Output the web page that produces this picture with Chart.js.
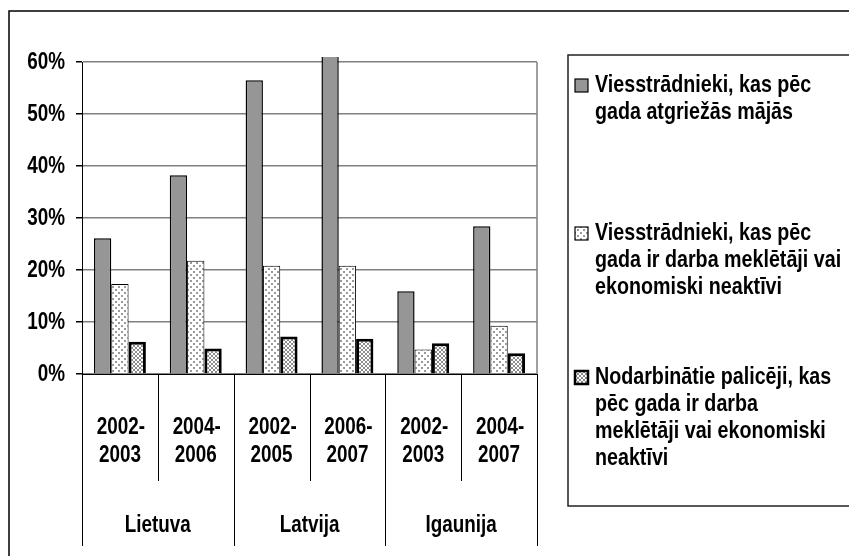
<!DOCTYPE html>
<html>
<head>
<meta charset="utf-8">
<script src="https://cdn.jsdelivr.net/npm/chart.js@4/dist/chart.umd.min.js"></script>
<style>
  html, body { margin: 0; padding: 0; background: #fff; }
  #wrap { width: 849px; height: 556px; position: relative; }
</style>
</head>
<body>
<div id="wrap"><canvas id="c" width="849" height="556"></canvas></div>
<script>
// ---- data ----
const countries = ['Lietuva', 'Latvija', 'Igaunija'];
const periods = ['2002-2003', '2004-2006', '2002-2005', '2006-2007', '2002-2003', '2004-2007'];
const seriesNames = [
  'Viesstrādnieki, kas pēc gada atgriežās mājās',
  'Viesstrādnieki, kas pēc gada ir darba meklētāji vai ekonomiski neaktīvi',
  'Nodarbinātie palicēji, kas pēc gada ir darba meklētāji vai ekonomiski neaktīvi'
];
const legendLines = [
  ['Viesstrādnieki, kas pēc', 'gada atgriežās mājās'],
  ['Viesstrādnieki, kas pēc', 'gada ir darba meklētāji vai', 'ekonomiski neaktīvi'],
  ['Nodarbinātie palicēji, kas', 'pēc gada ir darba', 'meklētāji vai ekonomiski', 'neaktīvi']
];
const returnedHome = [26.1, 38.2, 56.5, 65, 15.9, 28.4];
const jobSeekers = [17.3, 21.8, 20.8, 20.8, 4.7, 9.3];
const stayers = [6.2, 4.9, 7.2, 6.8, 5.9, 4.0];
const yTicks = [0, 10, 20, 30, 40, 50, 60];

const FONT = "'Liberation Sans', Arial, sans-serif";
const NARROW = 0.82;

function makePattern(draw, w, h) {
  const c = document.createElement('canvas');
  c.width = w; c.height = h;
  const x = c.getContext('2d');
  x.fillStyle = '#fff';
  x.fillRect(0, 0, w, h);
  draw(x);
  return document.getElementById('c').getContext('2d').createPattern(c, 'repeat');
}
const dotPattern = makePattern(x => {
  x.fillStyle = '#9a9a9a';
  x.fillRect(1, 1, 2, 2);
  x.fillRect(4, 4, 2, 2);
}, 6, 6);
const hatchPattern = makePattern(x => {
  x.fillStyle = '#8c8c8c';
  for (let i = 0; i < 4; i++) {
    x.fillRect(i, i, 1, 1);
    x.fillRect(3 - i, i, 1, 1);
  }
}, 4, 4);

const fills = ['#969696', dotPattern, hatchPattern];
const borders = [1.5, 1, 3];

function narrowText(ctx, text, x, y, align, size) {
  ctx.save();
  ctx.font = 'bold ' + size + 'px ' + FONT;
  ctx.textAlign = align;
  ctx.textBaseline = 'middle';
  ctx.fillStyle = '#000';
  ctx.translate(x, y);
  ctx.scale(NARROW, 1);
  ctx.fillText(text, 0, 0);
  ctx.restore();
}

const decor = {
  id: 'decor',
  afterDraw(chart) {
    const ctx = chart.ctx;
    const ca = chart.chartArea;
    const xs = chart.scales.x;
    const ys = chart.scales.y;
    ctx.save();
    // outer frame
    ctx.strokeStyle = '#000';
    ctx.lineWidth = 1.5;
    ctx.strokeRect(9, 11, 900, 600);
    // plot right border
    ctx.strokeStyle = '#808080';
    ctx.lineWidth = 1.5;
    ctx.beginPath();
    ctx.moveTo(ca.right, ca.top);
    ctx.lineTo(ca.right, ca.bottom);
    ctx.stroke();
    // category separators
    const n = periods.length;
    const cw = (ca.right - ca.left) / n;
    ctx.strokeStyle = '#000';
    ctx.lineWidth = 1;
    for (let j = 0; j <= n; j++) {
      const x = Math.round(ca.left + j * cw) + 0.5;
      ctx.beginPath();
      ctx.moveTo(x, ca.bottom);
      ctx.lineTo(x, j % 2 === 0 ? 546 : 481);
      ctx.stroke();
    }
    // y tick labels
    yTicks.forEach(v => narrowText(ctx, v + '%', 65, ys.getPixelForValue(v) + 1, 'right', 23));
    // x labels
    periods.forEach((p, i) => {
      const x = xs.getPixelForValue(i);
      const parts = p.split('-');
      narrowText(ctx, parts[0] + '-', x + 1, 428, 'center', 23);
      narrowText(ctx, parts[1], x, 456, 'center', 23);
    });
    countries.forEach((c, k) => {
      const x = (xs.getPixelForValue(2 * k) + xs.getPixelForValue(2 * k + 1)) / 2;
      narrowText(ctx, c, x, 526, 'center', 23);
    });
    // legend box
    ctx.strokeStyle = '#222';
    ctx.lineWidth = 1.5;
    ctx.strokeRect(568, 55, 400, 451);
    const starts = [85, 233, 377];
    legendLines.forEach((lines, k) => {
      const y0 = starts[k];
      ctx.fillStyle = fills[k];
      ctx.fillRect(575, y0 - 6, 13, 13);
      ctx.strokeStyle = '#000';
      ctx.lineWidth = k === 2 ? 2.5 : 1.2;
      ctx.strokeRect(575, y0 - 6, 13, 13);
      lines.forEach((t, li) => narrowText(ctx, t, 595, y0 + li * 27, 'left', 24));
    });
    ctx.restore();
  }
};

const data = {
  labels: periods,
  datasets: [returnedHome, jobSeekers, stayers].map((vals, k) => ({
    label: seriesNames[k],
    data: vals,
    backgroundColor: fills[k],
    borderColor: '#000',
    borderWidth: borders[k],
    borderSkipped: 'start',
    clip: k === 0 ? { left: 0, top: 5, right: 0, bottom: 0 } : 3
  }))
};

new Chart(document.getElementById('c'), {
  type: 'bar',
  data,
  options: {
    responsive: false,
    animation: false,
    devicePixelRatio: 1,
    layout: { padding: { left: 0, top: 62, right: 312, bottom: 182 } },
    plugins: { legend: { display: false }, tooltip: { enabled: false } },
    datasets: { bar: { barPercentage: 1, categoryPercentage: 0.685 } },
    scales: {
      x: {
        ticks: { display: false },
        grid: { display: false, drawTicks: false },
        border: { display: true, color: '#000', width: 1 },
        afterFit(s) { s.height = 0; }
      },
      y: {
        min: 0, max: 60,
        afterBuildTicks(s) { s.ticks = yTicks.map(v => ({ value: v })); },
        ticks: {
          callback: v => v + '%',
          color: 'rgba(0,0,0,0)',
          padding: 11,
          font: { family: FONT, size: 23, weight: 'bold' }
        },
        grid: { color: '#808080', lineWidth: 1.5, tickLength: 6, tickColor: '#000' },
        border: { display: true, color: '#000', width: 1 },
        afterFit(s) { s.width = 82; }
      }
    }
  },
  plugins: [decor]
});
</script>
</body>
</html>
